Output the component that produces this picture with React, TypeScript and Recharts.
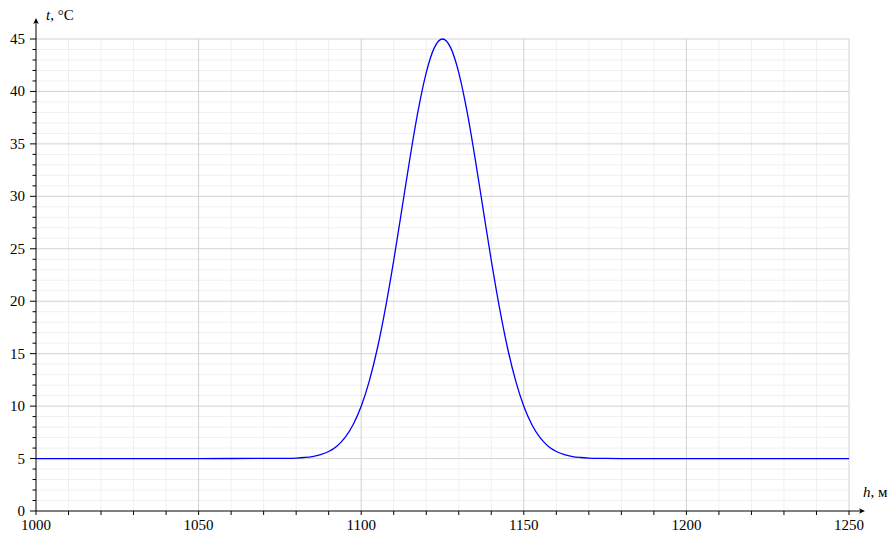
import { CartesianGrid, Line, LineChart, XAxis, YAxis } from "recharts";

// h, м — heights along the profile
const heights = [
  1000, 1050, 1070, 1075, 1077.5, 1080, 1082.5, 1085, 1087.5, 1090, 1092.5, 1095, 1097.5, 1100,
  1102.5, 1105, 1107.5, 1110, 1112.5, 1115, 1117.5, 1120, 1122.5, 1125, 1127.5, 1130, 1132.5,
  1135, 1137.5, 1140, 1142.5, 1145, 1147.5, 1150, 1152.5, 1155, 1157.5, 1160, 1162.5, 1165,
  1167.5, 1170, 1172.5, 1175, 1180, 1200, 1250
];

// t, °C
const temps = [
  5, 5, 5.01, 5.01, 5.02, 5.05, 5.1, 5.19, 5.37, 5.67, 6.18, 6.99, 8.22, 9.98, 12.4, 15.54, 19.41,
  23.89, 28.76, 33.66, 38.16, 41.8, 44.18, 45, 44.18, 41.8, 38.16, 33.66, 28.76, 23.89, 19.41,
  15.54, 12.4, 9.98, 8.22, 6.99, 6.18, 5.67, 5.37, 5.19, 5.1, 5.05, 5.02, 5.01, 5, 5, 5
];

const xTicks = [
  1000, 1010, 1020, 1030, 1040, 1050, 1060, 1070, 1080, 1090, 1100, 1110, 1120, 1130, 1140, 1150,
  1160, 1170, 1180, 1190, 1200, 1210, 1220, 1230, 1240, 1250
];
const xMajor = [1050, 1100, 1150, 1200, 1250];
const xMinor = [
  1010, 1020, 1030, 1040, 1060, 1070, 1080, 1090, 1110, 1120, 1130, 1140, 1160, 1170, 1180, 1190,
  1210, 1220, 1230, 1240
];

const yTicks = [
  0, 1, 2, 3, 4, 5, 6, 7, 8, 9, 10, 11, 12, 13, 14, 15, 16, 17, 18, 19, 20, 21, 22, 23, 24, 25, 26,
  27, 28, 29, 30, 31, 32, 33, 34, 35, 36, 37, 38, 39, 40, 41, 42, 43, 44, 45
];
const yMajor = [5, 10, 15, 20, 25, 30, 35, 40, 45];
const yMinor = [
  1, 2, 3, 4, 6, 7, 8, 9, 11, 12, 13, 14, 16, 17, 18, 19, 21, 22, 23, 24, 26, 27, 28, 29, 31, 32,
  33, 34, 36, 37, 38, 39, 41, 42, 43, 44
];

const data = heights.map((h, i) => ({ h, t: temps[i] }));

const textStyle = { fontFamily: "Liberation Serif, DejaVu Serif, serif", fontSize: 15 };

function XTick({ x, y, payload }: any) {
  const v = payload.value as number;
  const major = v % 50 === 0;
  return (
    <g>
      <line x1={x} x2={x} y1={y} y2={y + 4} stroke="#000" strokeWidth={1} />
      {major && (
        <text x={x} y={y + 19} textAnchor="middle" style={textStyle} fill="#000">
          {v}
        </text>
      )}
    </g>
  );
}

function YTick({ x, y, payload }: any) {
  const v = payload.value as number;
  const major = v % 5 === 0;
  return (
    <g>
      <line x1={x - (major ? 6 : 3.5)} x2={x} y1={y} y2={y} stroke="#000" strokeWidth={1} />
      {major && (
        <text x={x - 11} y={y + 5} textAnchor="end" style={textStyle} fill="#000">
          {v}
        </text>
      )}
    </g>
  );
}

export default function App() {
  return (
    <div style={{ position: "absolute", left: 0, top: 0, width: 895, height: 538, background: "#fff" }}>
      <LineChart
        width={895}
        height={538}
        data={data}
        margin={{ top: 39, right: 46, bottom: 0, left: 0 }}
      >
        <CartesianGrid stroke="#f0f0f0" horizontalValues={yMinor} verticalValues={xMinor} />
        <CartesianGrid stroke="#d2d2d2" horizontalValues={yMajor} verticalValues={xMajor} />
        <XAxis
          dataKey="h"
          type="number"
          domain={[1000, 1250]}
          ticks={xTicks}
          interval={0}
          height={27}
          tickSize={0}
          tickMargin={0}
          tickLine={false}
          axisLine={{ stroke: "#000", strokeWidth: 1 }}
          tick={<XTick />}
        />
        <YAxis
          type="number"
          domain={[0, 45]}
          ticks={yTicks}
          interval={0}
          width={36}
          tickSize={0}
          tickMargin={0}
          tickLine={false}
          axisLine={{ stroke: "#000", strokeWidth: 1 }}
          tick={<YTick />}
        />
        <Line
          dataKey="t"
          type="monotone"
          stroke="#0000ff"
          strokeWidth={1.3}
          dot={false}
          isAnimationActive={false}
        />
      </LineChart>
      <svg
        width={895}
        height={538}
        style={{ position: "absolute", left: 0, top: 0, pointerEvents: "none" }}
      >
        {/* axis arrows */}
        <line x1={36} x2={36} y1={39} y2={21} stroke="#000" strokeWidth={1} />
        <path d="M36,18 L33.2,24 L36,22.5 L38.8,24 Z" fill="#000" />
        <line x1={849} x2={862} y1={511} y2={511} stroke="#000" strokeWidth={1} />
        <path d="M865,511 L859,508.2 L860.5,511 L859,513.8 Z" fill="#000" />
        <text x={46} y={20} style={textStyle} fill="#000">
          <tspan fontStyle="italic">t</tspan>
          <tspan>, °C</tspan>
        </text>
        <text x={863} y={497} style={textStyle} fill="#000">
          <tspan fontStyle="italic">h</tspan>
          <tspan>, м</tspan>
        </text>
      </svg>
    </div>
  );
}
